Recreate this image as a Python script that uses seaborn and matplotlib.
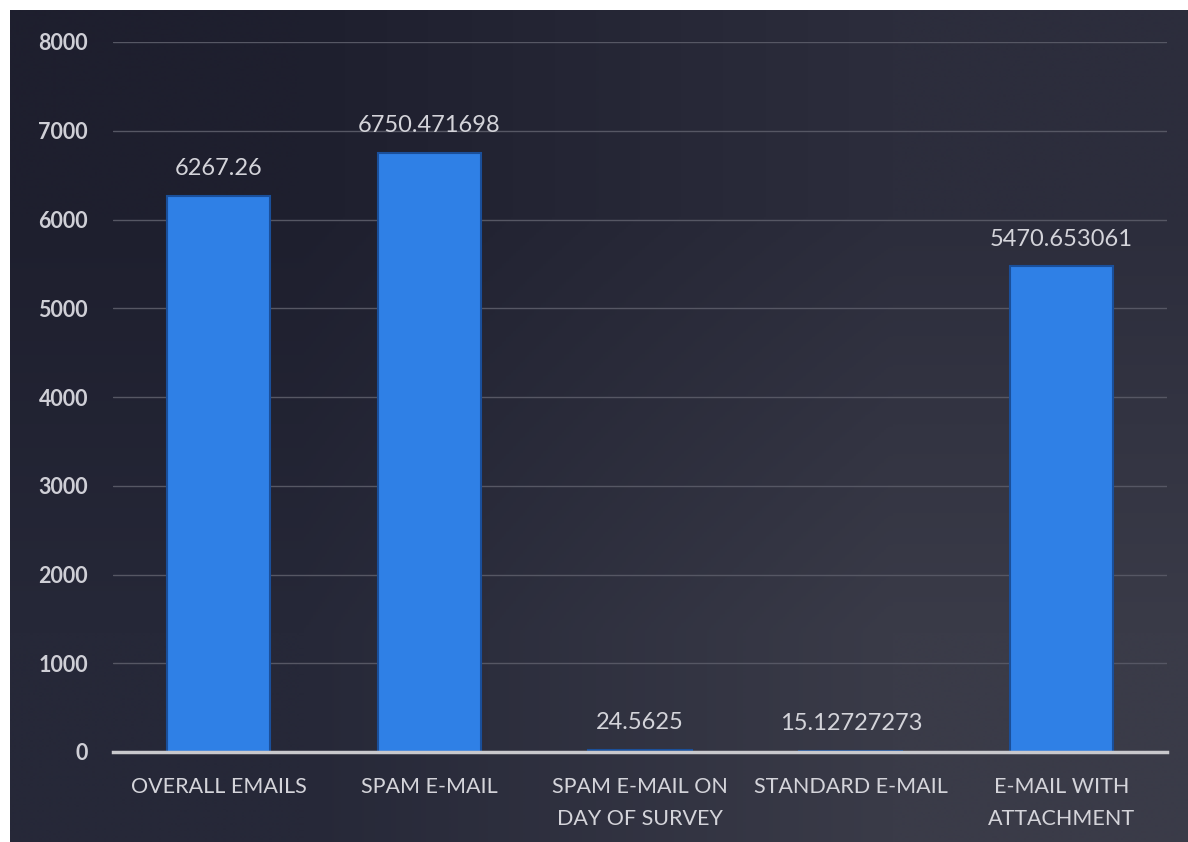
import matplotlib
matplotlib.use("Agg")
import matplotlib.pyplot as plt
import seaborn as sns
import pandas as pd
import numpy as np
from matplotlib.patches import Rectangle
from matplotlib.colors import to_rgb

categories = ["OVERALL EMAILS", "SPAM E-MAIL", "SPAM E-MAIL ON\nDAY OF SURVEY",
              "STANDARD E-MAIL", "E-MAIL WITH\nATTACHMENT"]
values = [6267.26, 6750.471698, 24.5625, 15.12727273, 5470.653061]
value_labels = ["6267.26", "6750.471698", "24.5625", "15.12727273", "5470.653061"]
yticks = [0, 1000, 2000, 3000, 4000, 5000, 6000, 7000, 8000]

sns.set_theme(style="dark")
plt.rcParams['font.family'] = ['Lato', 'DejaVu Sans']

bg = "#2a2b3a"
txt = "#d4d4da"

fig = plt.figure(figsize=(11.88, 8.42), dpi=100, facecolor=bg)

# subtle background gradient (dark left/top, lighter right/bottom)
bgax = fig.add_axes([10/1188, 0, 1 - 10/1188, 1 - 10/842], zorder=-5)
corners = np.array([[to_rgb("#1e1f2e"), to_rgb("#2c2d3c")],
                    [to_rgb("#262838"), to_rgb("#3a3b48")]])
bgax.imshow(corners, interpolation="bilinear", aspect="auto", extent=[0, 1, 0, 1],
            origin="upper")
bgax.set_axis_off()

# white border strips (top and left) as in the photographed reference
fig.patches.append(Rectangle((0, 1 - 10/842), 1, 10/842, transform=fig.transFigure,
                             facecolor="white", edgecolor="none", zorder=-1))
fig.patches.append(Rectangle((0, 0), 10/1188, 1, transform=fig.transFigure,
                             facecolor="white", edgecolor="none", zorder=-1))

ax = fig.add_axes([113/1188, 1 - 752/842, (1167 - 113)/1188, (752 - 42)/842])
ax.patch.set_alpha(0)

df = pd.DataFrame({"cat": categories, "val": values})
sns.barplot(data=df, x="cat", y="val", color="#2f80e6", width=0.49, ax=ax,
            saturation=1, edgecolor="#1a4f9a", linewidth=1.5)

ax.set_ylim(0, 8000)
ax.set_yticks(yticks)
ax.set_yticklabels([str(t) for t in yticks], fontsize=15.5, color="#cfcfd6",
                   fontweight="bold")
ax.tick_params(axis="y", pad=18, length=0)
ax.tick_params(axis="x", pad=18, length=0)
ax.set_xticks(range(len(categories)))
ax.set_xticklabels(categories, fontsize=15.5, color=txt, linespacing=1.75)
ax.set_xlabel("")
ax.set_ylabel("")

ax.yaxis.grid(True, color="#565764", linewidth=1.0)
ax.xaxis.grid(False)
ax.set_axisbelow(True)
for s in ["top", "right", "left"]:
    ax.spines[s].set_visible(False)
ax.spines["bottom"].set_color("#c8c8cc")
ax.spines["bottom"].set_linewidth(2.5)

ax.bar_label(ax.containers[0], labels=value_labels, padding=12, fontsize=17, color=txt)

fig.savefig("out.png", dpi=100, facecolor=bg)
